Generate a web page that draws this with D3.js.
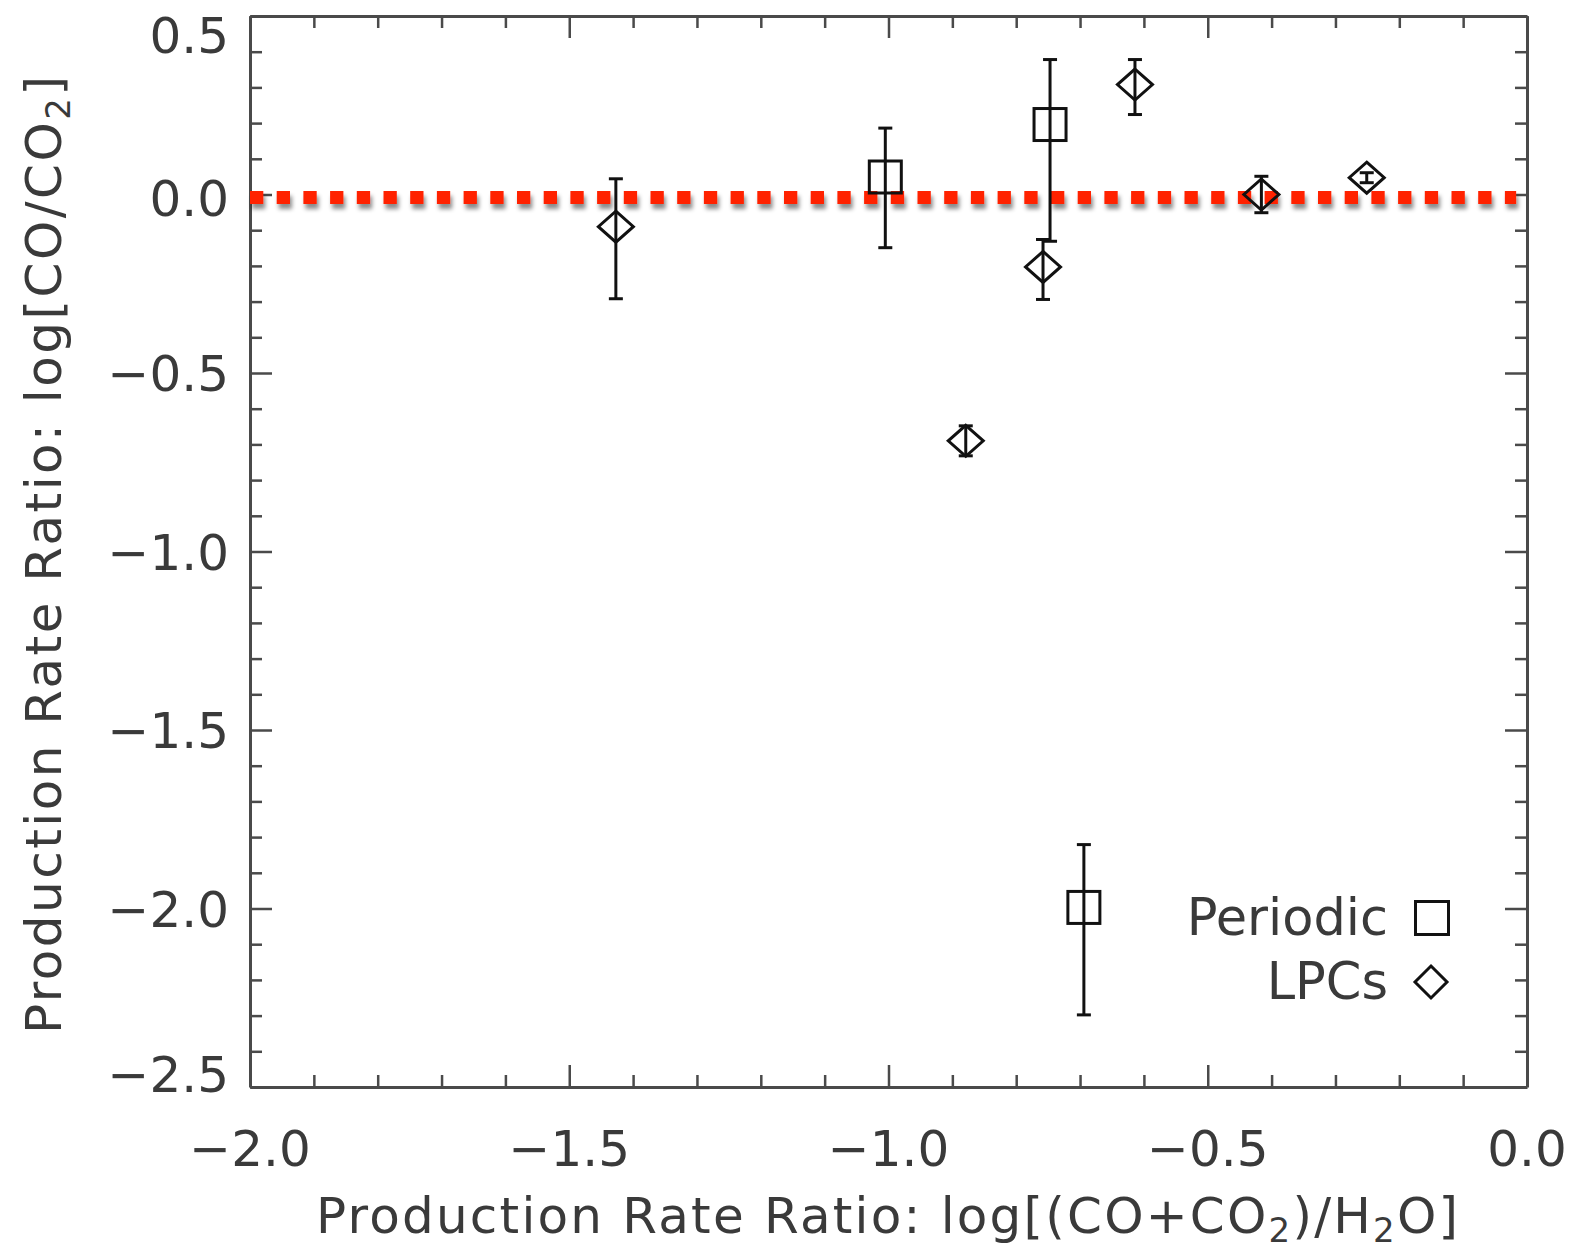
<!DOCTYPE html>
<html>
<head>
<meta charset="utf-8">
<script src="https://cdn.jsdelivr.net/npm/d3@7"></script>
<style>
  html, body { margin: 0; padding: 0; background: #fff; }
  svg { display: block; }
  text { font-family: "DejaVu Sans", sans-serif; font-weight: normal; fill: #3a3a3a; }
</style>
</head>
<body>
<svg id="chart" width="1574" height="1249"></svg>
<script>
// ---------- data ----------
const periodicX   = [-1.005, -0.747, -0.694];
const periodicY   = [0.049, 0.196, -1.997];
const periodicLo  = [-0.149, -0.131, -2.298];
const periodicHi  = [0.186, 0.378, -1.821];

const lpcX  = [-1.427, -0.879, -0.758, -0.614, -0.416, -0.251];
const lpcY  = [-0.090, -0.690, -0.203, 0.308, 0.000, 0.047];
const lpcLo = [-0.292, -0.732, -0.294, 0.224, -0.051, 0.033];
const lpcHi = [0.044, -0.648, -0.126, 0.378, 0.051, 0.061];

const refLineY = [0];
const xMajorTicks = [-2.0, -1.5, -1.0, -0.5, 0.0];
const yMajorTicks = [0.5, 0.0, -0.5, -1.0, -1.5, -2.0, -2.5];
const xTickLabels = ["\u22122.0", "\u22121.5", "\u22121.0", "\u22120.5", "0.0"];
const yTickLabels = ["0.5", "0.0", "\u22120.5", "\u22121.0", "\u22121.5", "\u22122.0", "\u22122.5"];
const legendLabels = ["Periodic", "LPCs"];

// ---------- layout ----------
const svg = d3.select("#chart");
const L = 250, R = 1527, T = 16, B = 1087;
const x = d3.scaleLinear().domain([-2, 0]).range([L, R]);
const y = d3.scaleLinear().domain([-2.5, 0.5]).range([B, T]);
const axisColor = "#4a4a4a";
const ink = "#111";

// drop shadow filter for the red reference line (user space so a flat line is not clipped)
const defs = svg.append("defs");
const f = defs.append("filter").attr("id", "shadow").attr("filterUnits", "userSpaceOnUse")
  .attr("x", 0).attr("y", 0).attr("width", 1574).attr("height", 1249);
f.append("feDropShadow").attr("dx", 2).attr("dy", 5).attr("stdDeviation", 2.2)
  .attr("flood-color", "#000").attr("flood-opacity", 0.45);

// ---------- axes (box with ticks on all sides) ----------
const minorX = d3.range(-2, 0.0001, 0.1).map(v => +v.toFixed(2));
const minorY = d3.range(-2.5, 0.5001, 0.1).map(v => +v.toFixed(2));
const isMajor = v => Math.abs(v * 2 - Math.round(v * 2)) < 1e-6;

const axB = d3.axisBottom(x).tickValues(minorX).tickFormat("").tickSizeOuter(0).tickSizeInner(0);
const axT = d3.axisTop(x).tickValues(minorX).tickFormat("").tickSizeOuter(0).tickSizeInner(0);
const axL = d3.axisLeft(y).tickValues(minorY).tickFormat("").tickSizeOuter(0).tickSizeInner(0);
const axR = d3.axisRight(y).tickValues(minorY).tickFormat("").tickSizeOuter(0).tickSizeInner(0);

function styleAxis(g, dir) {
  g.select(".domain").attr("stroke", axisColor).attr("stroke-width", 3);
  g.selectAll(".tick line").each(function(d) {
    const len = isMajor(d) ? 22 : 12;
    const sel = d3.select(this).attr("stroke", axisColor).attr("stroke-width", 2.5);
    if (dir === "b") sel.attr("y2", -len);
    if (dir === "t") sel.attr("y2", len);
    if (dir === "l") sel.attr("x2", len);
    if (dir === "r") sel.attr("x2", -len);
  });
}
svg.append("g").attr("transform", `translate(0,${B})`).call(axB).call(g => styleAxis(g, "b"));
svg.append("g").attr("transform", `translate(0,${T})`).call(axT).call(g => styleAxis(g, "t"));
svg.append("g").attr("transform", `translate(${L},0)`).call(axL).call(g => styleAxis(g, "l"));
svg.append("g").attr("transform", `translate(${R},0)`).call(axR).call(g => styleAxis(g, "r"));

// tick labels
svg.append("g").selectAll("text").data(xMajorTicks).join("text")
  .attr("x", d => x(d)).attr("y", 1166)
  .attr("text-anchor", "middle").attr("font-size", 50)
  .text((d, i) => xTickLabels[i]);

const yLabelShift = [19, 3, 0, 0, 0, 0, -13];
svg.append("g").selectAll("text").data(yMajorTicks).join("text")
  .attr("x", 229).attr("y", (d, i) => y(d) + yLabelShift[i])
  .attr("dy", "0.36em")
  .attr("text-anchor", "end").attr("font-size", 50)
  .text((d, i) => yTickLabels[i]);

// axis titles
const xt = svg.append("text").attr("x", 887).attr("y", 1233)
  .attr("text-anchor", "middle").attr("font-size", 50)
  .attr("textLength", 1142).attr("lengthAdjust", "spacing");
xt.append("tspan").text("Production Rate Ratio: log[(CO+CO");
xt.append("tspan").attr("font-size", 34).attr("dy", 9).text("2");
xt.append("tspan").attr("dy", -9).text(")/H");
xt.append("tspan").attr("font-size", 34).attr("dy", 9).text("2");
xt.append("tspan").attr("dy", -9).text("O]");

const yt = svg.append("text").attr("transform", "translate(61,555) rotate(-90)")
  .attr("text-anchor", "middle").attr("font-size", 50)
  .attr("textLength", 958).attr("lengthAdjust", "spacing");
yt.append("tspan").text("Production Rate Ratio: log[CO/CO");
yt.append("tspan").attr("font-size", 34).attr("dy", 9).text("2");
yt.append("tspan").attr("dy", -9).text("]");

// ---------- red dotted reference line ----------
svg.append("g").selectAll("line").data(refLineY).join("line")
  .attr("x1", x(-2)).attr("x2", x(-0.017))
  .attr("y1", d => y(d) + 3).attr("y2", d => y(d) + 3)
  .attr("stroke", "#ff2200").attr("stroke-width", 13)
  .attr("stroke-dasharray", "13.3 13.4")
  .attr("filter", "url(#shadow)");

// ---------- error bars ----------
function errorBars(xs, ys, lo, hi) {
  const g = svg.append("g").attr("stroke", ink).attr("stroke-width", 3);
  const idx = d3.range(xs.length);
  g.selectAll(".v").data(idx).join("line")
    .attr("x1", i => x(xs[i])).attr("x2", i => x(xs[i]))
    .attr("y1", i => y(lo[i])).attr("y2", i => y(hi[i]));
  g.selectAll(".lo").data(idx).join("line")
    .attr("x1", i => x(xs[i]) - 7).attr("x2", i => x(xs[i]) + 7)
    .attr("y1", i => y(lo[i])).attr("y2", i => y(lo[i]));
  g.selectAll(".hi").data(idx).join("line")
    .attr("x1", i => x(xs[i]) - 7).attr("x2", i => x(xs[i]) + 7)
    .attr("y1", i => y(hi[i])).attr("y2", i => y(hi[i]));
}
errorBars(periodicX, periodicY, periodicLo, periodicHi);
errorBars(lpcX, lpcY, lpcLo, lpcHi);

// ---------- markers ----------
const sq = 32, dw = 17.5, dh = 15.5;
const diamondPath = (hw, hh) => `M0,${-hh}L${hw},0L0,${hh}L${-hw},0Z`;

svg.append("g").selectAll("rect").data(d3.range(periodicX.length)).join("rect")
  .attr("x", i => x(periodicX[i]) - sq / 2).attr("y", i => y(periodicY[i]) - sq / 2)
  .attr("width", sq).attr("height", sq)
  .attr("fill", "none").attr("stroke", ink).attr("stroke-width", 3);

svg.append("g").selectAll("path").data(d3.range(lpcX.length)).join("path")
  .attr("transform", i => `translate(${x(lpcX[i])},${y(lpcY[i])})`)
  .attr("d", diamondPath(dw, dh))
  .attr("fill", "none").attr("stroke", ink).attr("stroke-width", 3).attr("stroke-linejoin", "miter");

// ---------- legend ----------
const legY = [935, 999];
const leg = svg.append("g");
leg.selectAll("text").data(legendLabels).join("text")
  .attr("x", 1388).attr("y", (d, i) => legY[i])
  .attr("text-anchor", "end").attr("font-size", 51)
  .text(d => d);
leg.append("rect").attr("x", 1432 - 16.5).attr("y", 918 - 16.5).attr("width", 33).attr("height", 33)
  .attr("fill", "none").attr("stroke", ink).attr("stroke-width", 3);
leg.append("path").attr("transform", "translate(1431,982)").attr("d", diamondPath(16, 16))
  .attr("fill", "none").attr("stroke", ink).attr("stroke-width", 3);
</script>
</body>
</html>
